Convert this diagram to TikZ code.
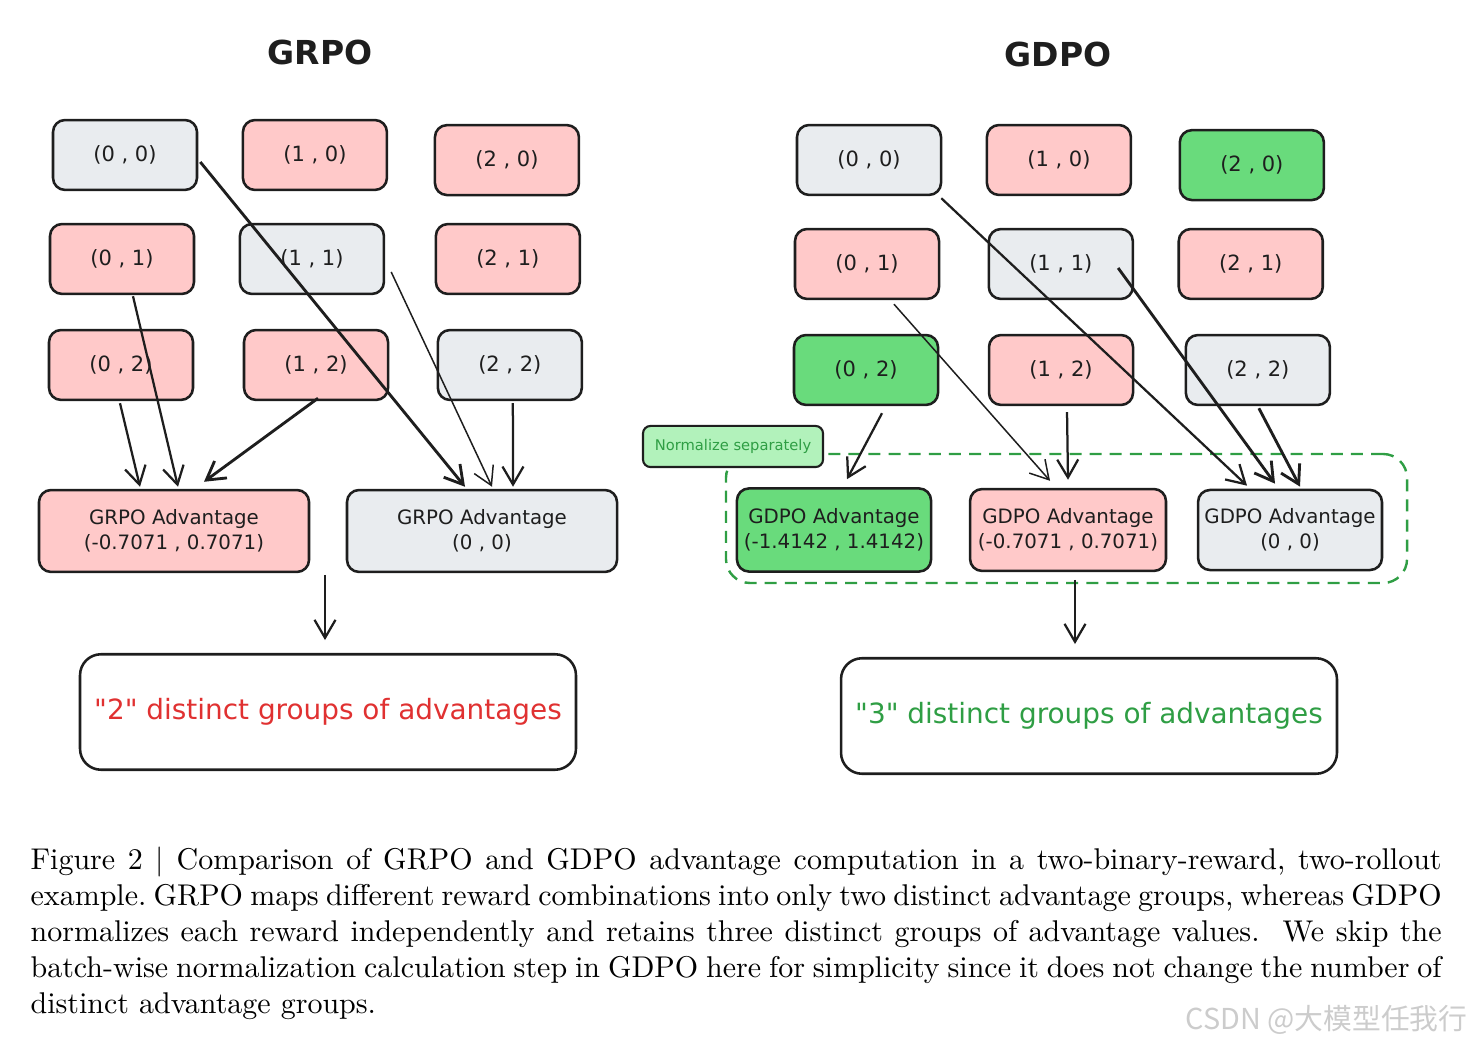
\documentclass[tikz,border=0pt]{standalone}
\usepackage{fontspec}
\usetikzlibrary{arrows.meta,calc,positioning}
\newfontfamily\sketch{DejaVu Sans}
\newfontfamily\cjk{Noto Sans CJK SC}
\definecolor{ink}{HTML}{1E1E1E}
\definecolor{cellred}{HTML}{FFC9C9}
\definecolor{cellgray}{HTML}{E9ECEF}
\definecolor{cellgreen}{HTML}{69DB7C}
\definecolor{notegreen}{HTML}{B2F2BB}
\definecolor{inkred}{HTML}{E03131}
\definecolor{inkgreen}{HTML}{2F9E44}

\tikzstyle{cell} = [draw=ink,line width=0.85pt,rounded corners=4pt,minimum width=48pt,minimum height=23.3pt,text=ink,font=\sketch\fontsize{7}{8.4}\selectfont]
\tikzstyle{adv} = [cell,align=center,inner sep=1.5pt,minimum height=27.3pt,font=\sketch\fontsize{6.6}{8.3}\selectfont]
\tikzstyle{summary} = [cell,rounded corners=7pt,minimum width=165.3pt,minimum height=38.5pt,font=\sketch\fontsize{9.3}{11}\selectfont]
\tikzstyle{title} = [text=ink,font=\sketch\bfseries\fontsize{11}{13}\selectfont]
\tikzstyle{link} = [draw=ink,line width=0.75pt,-{Straight Barb[length=6pt,width=7pt]}]
\tikzstyle{thinlink} = [link,line width=0.5pt]
\tikzstyle{thicklink} = [link,line width=0.95pt]

\begin{document}
\begin{tikzpicture}[x=0.3333pt,y=-0.3333pt,node distance=63.3pt]
	\useasboundingbox (0,0) rectangle (1473,1045);
	\node (rtitle) at (320,53) [title] {GRPO};
	\node (dtitle) at (1058,55) [title] {GDPO};
	\node (r00) at (125,155) [cell,fill=cellgray] {(0 , 0)};
	\node (r10) [cell,fill=cellred,right of=r00] {(1 , 0)};
	\node (r20) [cell,fill=cellred,right of=r10,xshift=0.7pt,yshift=-1.7pt] {(2 , 0)};
	\node (r01) at (122,259) [cell,fill=cellred] {(0 , 1)};
	\node (r11) [cell,fill=cellgray,right of=r01] {(1 , 1)};
	\node (r21) [cell,fill=cellred,right of=r11,xshift=2pt] {(2 , 1)};
	\node (r02) at (121,365) [cell,fill=cellred] {(0 , 2)};
	\node (r12) [cell,fill=cellred,right of=r02,xshift=1.7pt] {(1 , 2)};
	\node (r22) [cell,fill=cellgray,right of=r12,xshift=1.3pt] {(2 , 2)};
	\node (radvA) at (174,531) [adv,fill=cellred,minimum width=90pt] {GRPO Advantage\\(-0.7071 , 0.7071)};
	\node (radvB) at (482,531) [adv,fill=cellgray,minimum width=90pt] {GRPO Advantage\\(0 , 0)};
	\node (rsum) at (328,712) [summary,text=inkred] {"2" distinct groups of advantages};
	\node (d00) at (869,160) [cell,fill=cellgray] {(0 , 0)};
	\node (d10) [cell,fill=cellred,right of=d00] {(1 , 0)};
	\node (d20) [cell,fill=cellgreen,right of=d10,xshift=1pt,yshift=-1.7pt] {(2 , 0)};
	\node (d01) at (867,264) [cell,fill=cellred] {(0 , 1)};
	\node (d11) [cell,fill=cellgray,right of=d01,xshift=1.3pt] {(1 , 1)};
	\node (d21) [cell,fill=cellred,right of=d11] {(2 , 1)};
	\node (d02) at (866,370) [cell,fill=cellgreen] {(0 , 2)};
	\node (d12) [cell,fill=cellred,right of=d02,xshift=1.7pt] {(1 , 2)};
	\node (d22) [cell,fill=cellgray,right of=d12,xshift=2.3pt] {(2 , 2)};
	\node (group) at (1066.5,518.5) [draw=inkgreen,line width=0.8pt,dash pattern=on 4pt off 2.7pt,rounded corners=8pt,minimum width=227pt,minimum height=43pt] {};
	\node (note) at (733,446.5) [draw=ink,fill=notegreen,line width=0.7pt,rounded corners=2.5pt,minimum width=60pt,minimum height=13.7pt,inner sep=1pt,text=inkgreen,font=\sketch\fontsize{4.9}{6}\selectfont] {Normalize separately};
	\node (dadvA) at (834,530) [adv,fill=cellgreen,minimum width=64.7pt,minimum height=27.7pt] {GDPO Advantage\\(-1.4142 , 1.4142)};
	\node (dadvB) at (1068,530) [adv,fill=cellred,minimum width=65.3pt] {GDPO Advantage\\(-0.7071 , 0.7071)};
	\node (dadvC) at (1290,530) [adv,fill=cellgray,minimum width=61.3pt,minimum height=26.7pt] {GDPO Advantage\\(0 , 0)};
	\node (dsum) at (1089,716) [summary,text=inkgreen] {"3" distinct groups of advantages};
	\coordinate (rjoin) at (325,575);
	\coordinate (djoin) at (1075,580);
	\draw [thicklink] ($(r00.east)+(2,7)$) -- ($(radvB.north)+(-17,-2)$);
	\draw [link] ($(r01.south)+(11,1)$) -- ($(radvA.north)+(4,-2)$);
	\draw [link] ($(r02.south)+(-1,2)$) -- ($(radvA.north)+(-34,-2)$);
	\draw [thicklink] ($(r12.south)+(2,-3)$) -- ($(radvA.north)+(30,-7)$);
	\draw [thinlink] ($(r11.east)+(6,13)$) -- ($(radvB.north)+(10,-2)$);
	\draw [link] ($(r22.south)+(3,2)$) -- ($(radvB.north)+(31,-2)$);
	\draw [link] ($(d00.south east)+(-1,2)$) -- ($(dadvC.north)+(-43,-3)$);
	\draw [thinlink] ($(d01.south)+(27,4)$) -- ($(dadvB.north)+(-18,-7)$);
	\draw [link] ($(d02.south)+(16,7)$) -- ($(dadvA.north)+(13,-8)$);
	\draw [link] ($(d12.south)+(6,6)$) -- ($(dadvB.north)+(0,-8)$);
	\draw [thicklink] ($(d11.east)+(-16,4)$) -- ($(dadvC.north)+(-15,-5)$);
	\draw [thicklink] ($(d22.south)+(1,2)$) -- ($(dadvC.north)+(10,-2)$);
	\draw [link,shorten >=4.3pt] (rjoin) -- (rjoin |- rsum.north);
	\draw [link,shorten >=4.3pt] (djoin) -- (djoin |- dsum.north);
	\node (caption) at (30,846) [anchor=north west,text width=470.3pt,align=justify,inner sep=0pt,font=\fontsize{10}{12}\selectfont] {\frenchspacing\spaceskip=0.333em plus 0.2em minus 0.16em Figure 2 $\vert$ Comparison of GRPO and GDPO advantage computation in a two-binary-reward, two-rollout example. GRPO maps different reward combinations into only two distinct advantage groups, whereas GDPO\linebreak normalizes each reward independently and retains three distinct groups of advantage values.\ \ We skip the batch-wise normalization calculation step in GDPO here for simplicity since it does not change the number of\linebreak distinct advantage groups.};
	\node (mark) at (1468,1020) [anchor=east,inner sep=0pt,text=gray!40,font=\cjk\fontsize{9.6}{12}\selectfont] {CSDN @大模型任我行};
\end{tikzpicture}
\end{document}
